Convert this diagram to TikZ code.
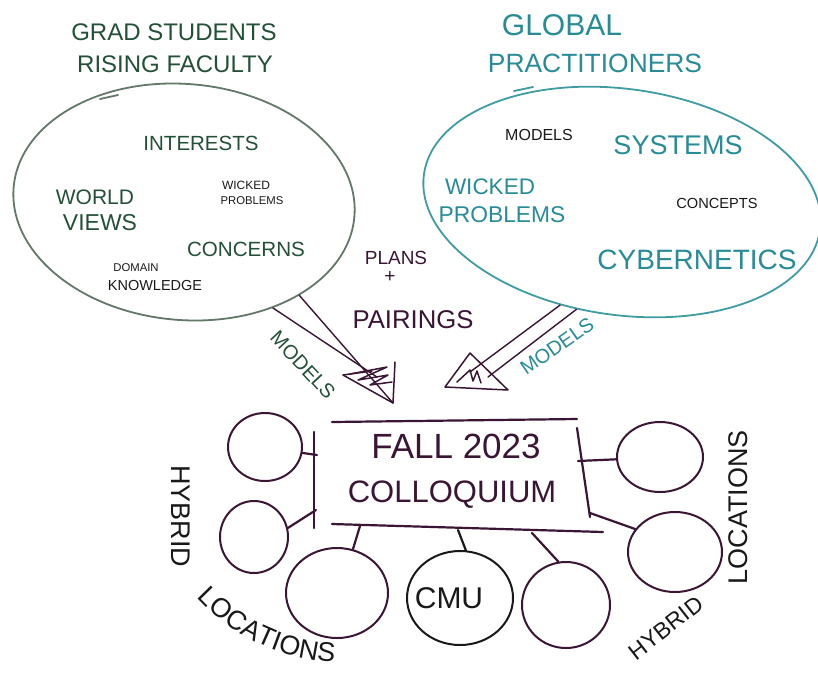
\documentclass[tikz,border=0pt]{standalone}
\usepackage{fontspec}
\setmainfont{Liberation Sans}
\usetikzlibrary{shapes.geometric,decorations.text}
\newcommand\hsz[1]{\fontsize{#1}{#1}\selectfont}
\newcommand\locfont{\fontsize{27}{27}\selectfont\color{inkblk}}
\definecolor{gsgreen}{RGB}{36,80,56}
\definecolor{gsline}{RGB}{98,120,104}
\definecolor{tealtx}{RGB}{40,140,150}
\definecolor{tealln}{RGB}{62,156,162}
\definecolor{plum}{RGB}{58,22,52}
\definecolor{inkblk}{RGB}{25,25,25}
\begin{document}
\begin{tikzpicture}[x=1pt,y=-1pt,
  txt/.style={inner sep=0pt, anchor=center, text depth=0pt},
  gtx/.style={txt, text=gsgreen},
  ttx/.style={txt, text=tealtx},
  btx/.style={txt, text=inkblk},
  ptx/.style={txt, text=plum},
  blob/.style={draw=plum, line width=2pt, ellipse, inner sep=0pt},
  cloud/.style={ellipse, inner sep=0pt, line width=1.8pt},
  boxln/.style={draw=plum, line width=2.2pt, line cap=round},
  link/.style={draw=plum, line width=2.2pt, line cap=round},
  shaft/.style={draw=plum, line width=1.4pt, line cap=round},
  head/.style={draw=plum, line width=1.5pt, line join=round, line cap=round},
]
\useasboundingbox (0,0) rectangle (818,673);
\fill[white] (0,0) rectangle (818,673);
\clip (0,0) rectangle (818,673);

% ---- left group
\node[gtx, font=\hsz{24}] (gs1) at (174,32) {GRAD STUDENTS};
\node[gtx, font=\hsz{24}] (gs2) at (175,64) {RISING FACULTY};
\node[cloud, draw=gsline, minimum width=342pt, minimum height=236pt, rotate=-5] (gsE) at (184,202) {};
\draw[gsline, line width=1.8pt, line cap=round] (100,99) -- (118,95);
\node[gtx, font=\hsz{20.5}] (intr) at (201,143) {INTERESTS};
\node[gtx, font=\hsz{21}] (wv1) at (95,197) {WORLD};
\node[gtx, font=\hsz{23}] (wv2) at (100,222) {VIEWS};
\node[btx, font=\hsz{12}] (wp1) at (246,185) {WICKED};
\node[btx, font=\hsz{11.3}] (wp2) at (252,201) {PROBLEMS};
\node[gtx, font=\hsz{20.6}] (conc) at (246,249) {CONCERNS};
\node[btx, font=\hsz{11.3}] (dk1) at (136,268) {DOMAIN};
\node[btx, font=\hsz{14.5}] (dk2) at (155,285) {KNOWLEDGE};

% ---- right group
\node[ttx, font=\hsz{30}] (gp1) at (562,25) {GLOBAL};
\node[ttx, font=\hsz{26.4}] (gp2) at (595,63) {PRACTITIONERS};
\node[cloud, draw=tealln, minimum width=400pt, minimum height=226pt, rotate=-8] (gpE) at (622,202) {};
\draw[tealln, line width=1.8pt, line cap=round] (514,91) -- (533,87);
\node[btx, font=\hsz{16}] (mod) at (539,135) {MODELS};
\node[ttx, font=\hsz{27}] (sys) at (678,145) {SYSTEMS};
\node[ttx, font=\hsz{22.5}] (wk1) at (490,187) {WICKED};
\node[ttx, font=\hsz{22.8}] (wk2) at (502,215) {PROBLEMS};
\node[btx, font=\hsz{14.6}] (cpt) at (717,203) {CONCEPTS};
\node[ttx, font=\hsz{28}] (cyb) at (697,260) {CYBERNETICS};

% ---- middle
\node[ptx, font=\hsz{19}] (plans) at (396,258) {PLANS};
\node[ptx, font=\hsz{19}] (plus) at (390,277) {+};
\node[ptx, font=\hsz{25.7}] (pair) at (413,320) {PAIRINGS};

% ---- left arrow
\coordinate (la1) at (377,377);
\coordinate (la2) at (393,403);
\draw[shaft] (gsE.-45) -- (la1);
\draw[shaft] (gsE.-34) -- (la2);
\coordinate (lt1) at (343,375);
\coordinate (lt2) at (395,362);
\draw[head] (lt1) -- (la2) -- (lt2);
\draw[head] (lt1) -- (372,371);
\draw[head] (350,374) -- (387,367) -- (358,380) -- (388,375) -- (370,385) -- (392,382);
\node[gtx, font=\hsz{20}, rotate=-47] (lmod) at (303,365) {MODELS};

% ---- right arrow
\coordinate (ra1) at (470,372);
\coordinate (ra2) at (488,377);
\draw[shaft] (gpE.-113) -- (ra1);
\draw[shaft] (gpE.-105) -- (ra2);
\coordinate (rt1) at (445,387);
\coordinate (rt2) at (470,353);
\coordinate (rt3) at (508,390);
\draw[head] (rt2) -- (rt1) -- (rt3) -- cycle;
\draw[head] (457,382) -- (470,370) -- (473,381) -- (477,371) -- (481,383);
\node[ttx, font=\hsz{20}, rotate=35] (rmod) at (557,346) {MODELS};

% ---- colloquium box
\coordinate (bt1) at (332,422);
\coordinate (bt2) at (577,419);
\coordinate (bl1) at (314,432);
\coordinate (bl2) at (314,528);
\coordinate (bb1) at (332,524);
\coordinate (bb2) at (603,532);
\coordinate (br1) at (577,428);
\coordinate (br2) at (590,517);
\draw[boxln] (bt1) -- (bt2);
\draw[boxln] (bl1) -- (bl2);
\draw[boxln] (bb1) -- (bb2);
\draw[boxln] (br1) -- (br2);
\node[ptx, font=\hsz{35}] (fall) at (456,446) {FALL 2023};
\node[ptx, font=\hsz{31}] (coll) at (452,492) {COLLOQUIUM};

% ---- location circles
\node[blob, minimum width=74pt, minimum height=68pt] (c1) at (265,447) {};
\node[blob, minimum width=68pt, minimum height=72pt] (c2) at (254,537) {};
\node[blob, minimum width=102pt, minimum height=90pt] (c3) at (337,593) {};
\node[blob, draw=inkblk, minimum width=106pt, minimum height=94pt] (cmu) at (460,598) {};
\node[blob, minimum width=88pt, minimum height=86pt] (c5) at (566,605) {};
\node[blob, minimum width=94pt, minimum height=80pt] (c6) at (675,552) {};
\node[blob, minimum width=86pt, minimum height=70pt] (c7) at (660,457) {};
\node[btx, font=\hsz{30}] (cmut) at (449,598) {CMU};

\coordinate (k1) at (317,455);
\coordinate (k2) at (316,510);
\coordinate (k3) at (360,526);
\coordinate (k4) at (458,530);
\coordinate (k5) at (532,533);
\coordinate (k6) at (590,513);
\coordinate (k7) at (578,461);
\draw[link] (c1.-9) -- (k1);
\draw[link] (c2.15) -- (k2);
\draw[link] (c3.70) -- (k3);
\draw[link, draw=inkblk] (cmu.83) -- (k4);
\draw[link] (c5.100) -- (k5);
\draw[link] (c6.150) -- (k6);
\draw[link] (c7.183) -- (k7);

% ---- hybrid locations labels
\node[btx, font=\hsz{27}, rotate=-90] (hyl) at (181,516) {HYBRID};
\path[decorate, decoration={text along path, text={|\locfont|LOCATIONS}, text align=center}]
  (187,586) .. controls (226,636) and (286,664) .. (350,662);
\node[btx, font=\hsz{27}, rotate=90] (lor) at (738,507) {LOCATIONS};
\node[btx, font=\hsz{23}, rotate=38] (hyr) at (666,628) {HYBRID};
\end{tikzpicture}
\end{document}
